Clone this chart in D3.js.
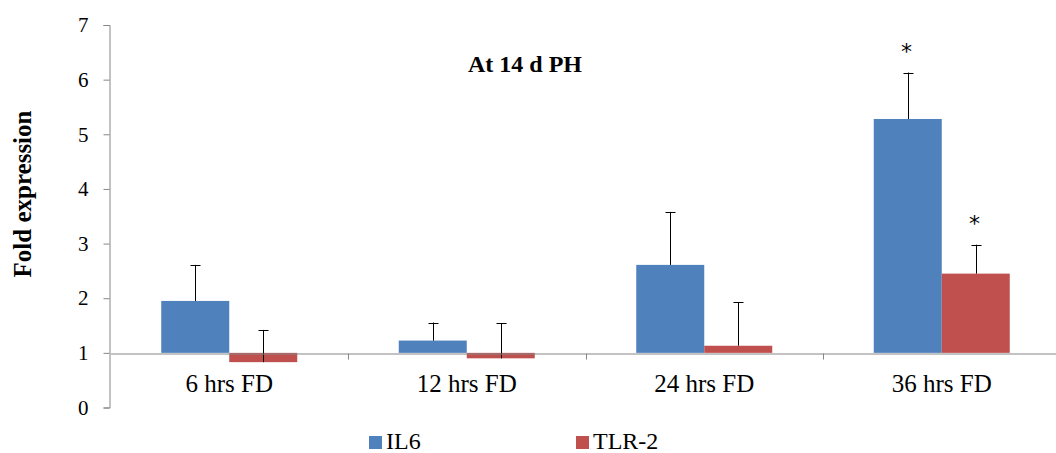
<!DOCTYPE html>
<html>
<head>
<meta charset="utf-8">
<script src="https://cdn.jsdelivr.net/npm/d3@7"></script>
<style>
  html, body { margin: 0; padding: 0; background: #fff; }
  svg { display: block; }
  text { font-family: "Liberation Serif", "Times New Roman", serif; fill: #000; }
</style>
</head>
<body>
<svg id="chart" width="1056" height="453"></svg>
<script>
const categories = ["6 hrs FD", "12 hrs FD", "24 hrs FD", "36 hrs FD"];
const seriesNames = ["IL6", "TLR-2"];
const il6Values = [1.95, 1.225, 2.61, 5.28];
const tlr2Values = [0.83, 0.90, 1.13, 2.45];
const il6ErrTop = [2.61, 1.555, 3.58, 6.13];
const tlr2ErrTop = [1.42, 1.54, 1.93, 2.98];
const il6Stars = ["", "", "", "*"];
const tlr2Stars = ["", "", "", "*"];
const yTicks = [0, 1, 2, 3, 4, 5, 6, 7];
const baseline = 1;
const colors = ["#4F81BD", "#C0504D"];
const titleText = "At 14 d PH";
const yLabel = "Fold expression";

const svg = d3.select("#chart");
const y = d3.scaleLinear().domain([0, 7]).range([407.5, 25]);
const x0 = d3.scaleBand().domain(categories).range([110.5, 1060.5]).paddingInner(0).paddingOuter(0);
const barW = 68;
const x1 = d3.scaleBand().domain(seriesNames).range([0, barW * 2]).padding(0);

const series = [
  { name: "IL6", values: il6Values, err: il6ErrTop, stars: il6Stars },
  { name: "TLR-2", values: tlr2Values, err: tlr2ErrTop, stars: tlr2Stars }
];

// y axis
const yAxis = d3.axisLeft(y).tickValues(yTicks).tickSize(6).tickPadding(15).tickFormat(d3.format("d"));
const yg = svg.append("g").attr("transform", "translate(109.5,0)").call(yAxis);
yg.select(".domain").attr("stroke", "#868686");
yg.selectAll(".tick line").attr("stroke", "#868686");
yg.selectAll(".tick text").attr("font-size", 21).attr("fill", "#000");

// bars
const groupOffset = (x0.bandwidth() - barW * 2) / 2;
series.forEach((s, si) => {
  const g = svg.append("g");
  categories.forEach((c, i) => {
    const bx = x0(c) + groupOffset + x1(s.name);
    const v = s.values[i];
    g.append("rect")
      .attr("x", bx).attr("width", x1.bandwidth())
      .attr("y", y(Math.max(v, baseline)))
      .attr("height", Math.abs(y(v) - y(baseline)))
      .attr("fill", colors[si]);
    const cx = Math.round(bx + x1.bandwidth() / 2) + 0.5;
    g.append("line").attr("x1", cx).attr("x2", cx)
      .attr("y1", y(v)).attr("y2", y(s.err[i]))
      .attr("stroke", "#000").attr("stroke-width", 1);
    g.append("line").attr("x1", cx - 5).attr("x2", cx + 5)
      .attr("y1", Math.round(y(s.err[i])) + 0.5).attr("y2", Math.round(y(s.err[i])) + 0.5)
      .attr("stroke", "#000").attr("stroke-width", 1);
    if (s.stars[i]) {
      g.append("text").attr("x", cx - 2).attr("y", y(s.err[i]) - 14)
        .attr("text-anchor", "middle").attr("font-size", 22)
        .style("font-family", "DejaVu Sans, sans-serif")
        .text(s.stars[i]);
    }
  });
});

// x axis at baseline 1
const xAxis = d3.axisBottom(x0).tickSize(0).tickPadding(0).tickFormat(() => "");
const xg = svg.append("g").attr("transform", `translate(0,${Math.round(y(baseline)) + 0.5})`).call(xAxis);
xg.select(".domain").attr("stroke", "#868686");
const bounds = categories.slice(1).map(c => x0(c));
xg.selectAll(".btick").data(bounds).enter().append("line")
  .attr("x1", d => Math.round(d) + 0.5).attr("x2", d => Math.round(d) + 0.5)
  .attr("y1", 0).attr("y2", 6).attr("stroke", "#868686");
xg.selectAll(".clabel").data(categories).enter().append("text")
  .attr("x", d => x0(d) + x0.bandwidth() / 2)
  .attr("y", 38)
  .attr("text-anchor", "middle").attr("font-size", 25)
  .text(d => d);

// title
svg.append("text").attr("x", 525).attr("y", 72).attr("text-anchor", "middle")
  .attr("font-size", 24).attr("font-weight", "bold").text(titleText);

// y label
svg.append("text").attr("transform", "translate(31,194) rotate(-90)")
  .attr("text-anchor", "middle").attr("font-size", 25).attr("font-weight", "bold").text(yLabel);

// legend
const legendX = [369, 576];
series.forEach((s, si) => {
  svg.append("rect").attr("x", legendX[si]).attr("y", 436).attr("width", 13).attr("height", 13).attr("fill", colors[si]);
  svg.append("text").attr("x", legendX[si] + 17).attr("y", 449).attr("font-size", 24).text(s.name);
});
</script>
</body>
</html>
